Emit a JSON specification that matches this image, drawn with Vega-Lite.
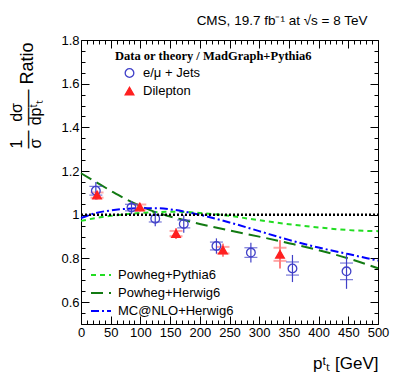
{
  "$schema": "https://vega.github.io/schema/vega-lite/v6.json",
  "width": 297,
  "height": 284,
  "autosize": {"type": "none"},
  "padding": {"left": 81, "top": 40, "right": 21, "bottom": 59},
  "background": "white",
  "config": {"view": {"stroke": null}, "font": "Liberation Sans"},
  "datasets": {
    "theory": [
      {"model": "Powheg+Pythia6", "x": 0, "y": 0.972},
      {"model": "Powheg+Pythia6", "x": 25, "y": 0.985},
      {"model": "Powheg+Pythia6", "x": 50, "y": 0.995},
      {"model": "Powheg+Pythia6", "x": 75, "y": 1.002},
      {"model": "Powheg+Pythia6", "x": 100, "y": 1.008},
      {"model": "Powheg+Pythia6", "x": 125, "y": 1.012},
      {"model": "Powheg+Pythia6", "x": 150, "y": 1.014},
      {"model": "Powheg+Pythia6", "x": 175, "y": 1.013},
      {"model": "Powheg+Pythia6", "x": 200, "y": 1.008},
      {"model": "Powheg+Pythia6", "x": 250, "y": 0.995},
      {"model": "Powheg+Pythia6", "x": 300, "y": 0.975},
      {"model": "Powheg+Pythia6", "x": 350, "y": 0.957},
      {"model": "Powheg+Pythia6", "x": 400, "y": 0.942},
      {"model": "Powheg+Pythia6", "x": 450, "y": 0.930},
      {"model": "Powheg+Pythia6", "x": 500, "y": 0.925},
      {"model": "Powheg+Herwig6", "x": 0, "y": 1.190},
      {"model": "Powheg+Herwig6", "x": 25, "y": 1.150},
      {"model": "Powheg+Herwig6", "x": 50, "y": 1.110},
      {"model": "Powheg+Herwig6", "x": 75, "y": 1.072},
      {"model": "Powheg+Herwig6", "x": 100, "y": 1.040},
      {"model": "Powheg+Herwig6", "x": 125, "y": 1.012},
      {"model": "Powheg+Herwig6", "x": 150, "y": 0.992},
      {"model": "Powheg+Herwig6", "x": 175, "y": 0.975},
      {"model": "Powheg+Herwig6", "x": 200, "y": 0.958},
      {"model": "Powheg+Herwig6", "x": 250, "y": 0.928},
      {"model": "Powheg+Herwig6", "x": 300, "y": 0.900},
      {"model": "Powheg+Herwig6", "x": 350, "y": 0.870},
      {"model": "Powheg+Herwig6", "x": 400, "y": 0.838},
      {"model": "Powheg+Herwig6", "x": 450, "y": 0.800},
      {"model": "Powheg+Herwig6", "x": 500, "y": 0.755},
      {"model": "MC@NLO+Herwig6", "x": 0, "y": 0.985},
      {"model": "MC@NLO+Herwig6", "x": 25, "y": 1.008},
      {"model": "MC@NLO+Herwig6", "x": 50, "y": 1.020},
      {"model": "MC@NLO+Herwig6", "x": 75, "y": 1.027},
      {"model": "MC@NLO+Herwig6", "x": 100, "y": 1.030},
      {"model": "MC@NLO+Herwig6", "x": 125, "y": 1.030},
      {"model": "MC@NLO+Herwig6", "x": 150, "y": 1.025},
      {"model": "MC@NLO+Herwig6", "x": 175, "y": 1.014},
      {"model": "MC@NLO+Herwig6", "x": 200, "y": 1.000},
      {"model": "MC@NLO+Herwig6", "x": 250, "y": 0.965},
      {"model": "MC@NLO+Herwig6", "x": 300, "y": 0.925},
      {"model": "MC@NLO+Herwig6", "x": 350, "y": 0.885},
      {"model": "MC@NLO+Herwig6", "x": 400, "y": 0.850},
      {"model": "MC@NLO+Herwig6", "x": 450, "y": 0.820},
      {"model": "MC@NLO+Herwig6", "x": 500, "y": 0.790}
    ],
    "meas": [
      {"sample": "e/μ + Jets", "x": 25, "y": 1.110, "lo": 1.070, "hi": 1.150, "slo": 1.090, "shi": 1.130},
      {"sample": "e/μ + Jets", "x": 85, "y": 1.033, "lo": 1.003, "hi": 1.063, "slo": 1.018, "shi": 1.048},
      {"sample": "e/μ + Jets", "x": 125, "y": 0.982, "lo": 0.947, "hi": 1.017, "slo": 0.967, "shi": 0.997},
      {"sample": "e/μ + Jets", "x": 173, "y": 0.958, "lo": 0.918, "hi": 0.998, "slo": 0.940, "shi": 0.976},
      {"sample": "e/μ + Jets", "x": 228, "y": 0.857, "lo": 0.822, "hi": 0.892, "slo": 0.839, "shi": 0.875},
      {"sample": "e/μ + Jets", "x": 286, "y": 0.827, "lo": 0.782, "hi": 0.872, "slo": 0.805, "shi": 0.849},
      {"sample": "e/μ + Jets", "x": 356, "y": 0.754, "lo": 0.692, "hi": 0.816, "slo": 0.724, "shi": 0.784},
      {"sample": "e/μ + Jets", "x": 447, "y": 0.741, "lo": 0.661, "hi": 0.821, "slo": 0.703, "shi": 0.779},
      {"sample": "Dilepton", "x": 27, "y": 1.090, "lo": 1.070, "hi": 1.110, "slo": 1.078, "shi": 1.102},
      {"sample": "Dilepton", "x": 99, "y": 1.035, "lo": 1.015, "hi": 1.055, "slo": 1.023, "shi": 1.047},
      {"sample": "Dilepton", "x": 160, "y": 0.914, "lo": 0.889, "hi": 0.939, "slo": 0.902, "shi": 0.926},
      {"sample": "Dilepton", "x": 239, "y": 0.838, "lo": 0.808, "hi": 0.868, "slo": 0.823, "shi": 0.853},
      {"sample": "Dilepton", "x": 335, "y": 0.819, "lo": 0.754, "hi": 0.884, "slo": 0.789, "shi": 0.849}
    ],
    "unity": [{"x": 0, "y": 1}, {"x": 500, "y": 1}]
  },
  "layer": [
    {
      "encoding": {
        "x": {
          "field": "x", "type": "quantitative",
          "scale": {"domain": [0, 500], "nice": false, "zero": false},
          "axis": {
            "orient": "bottom",
            "title": "pᵗₜ [GeV]", "titleFont": "Liberation Sans", "titleFontSize": 17, "titleFontWeight": "normal",
            "titleColor": "black", "titleAnchor": "end", "titleAlign": "right", "titlePadding": 12,
            "tickCount": 50, "labelExpr": "datum.value % 50 === 0 ? datum.label : ''",
            "labelOverlap": false, "labelFlush": false, "labelFont": "Liberation Sans", "labelFontSize": 13,
            "labelColor": "black", "labelPadding": 10,
            "tickSize": {"condition": {"test": "datum.value % 50 === 0", "value": -8}, "value": -4},
            "tickColor": "black", "domainColor": "black", "grid": false
          }
        },
        "y": {
          "field": "y", "type": "quantitative",
          "scale": {"domain": [0.5, 1.8], "nice": false, "zero": false},
          "axis": {
            "orient": "left",
            "title": ["\u00a01\u00a0\u00a0\u00a0\u00a0dσ", "\u00a0σ\u00a0\u00a0\u00a0dpᵗₜ"],
            "titleFont": "Liberation Sans", "titleFontSize": 16, "titleFontWeight": "normal", "titleColor": "black",
            "titleAngle": 270, "titleAlign": "left", "titleBaseline": "alphabetic", "titleLineHeight": 19,
            "titleX": -60, "titleY": 108,
            "values": [0.5, 0.55, 0.6, 0.65, 0.7, 0.75, 0.8, 0.85, 0.9, 0.95, 1, 1.05, 1.1, 1.15, 1.2, 1.25, 1.3, 1.35, 1.4, 1.45, 1.5, 1.55, 1.6, 1.65, 1.7, 1.75, 1.8],
            "labelExpr": "abs(datum.value*5 - round(datum.value*5)) < 0.0001 ? (datum.value == 1 ? '1' : format(datum.value, '.1f')) : ''",
            "labelOverlap": false, "labelFlush": false, "labelFont": "Liberation Sans", "labelFontSize": 13,
            "labelColor": "black", "labelPadding": 10,
            "tickSize": {"condition": {"test": "abs(datum.value*5 - round(datum.value*5)) < 0.0001", "value": -8}, "value": -4},
            "tickColor": "black", "domainColor": "black", "grid": false
          }
        }
      },
      "layer": [
        {
          "data": {"name": "theory"},
          "mark": {"type": "line", "strokeWidth": 2, "interpolate": "monotone"},
          "encoding": {
            "color": {
              "field": "model", "type": "nominal",
              "scale": {"domain": ["Powheg+Pythia6", "Powheg+Herwig6", "MC@NLO+Herwig6"], "range": ["#22dd22", "#127a12", "#0000ff"]},
              "legend": {"title": null, "orient": "none", "legendX": 9, "legendY": 224, "labelFont": "Liberation Sans", "labelFontSize": 13, "labelColor": "black", "symbolType": "stroke", "symbolSize": 400, "symbolStrokeWidth": 2, "labelOffset": 6, "rowPadding": -3, "padding": 0}
            },
            "strokeDash": {
              "field": "model", "type": "nominal",
              "scale": {"domain": ["Powheg+Pythia6", "Powheg+Herwig6", "MC@NLO+Herwig6"], "range": [[5, 4], [12, 6], [8, 3, 2, 3]]},
              "legend": {"title": null, "orient": "none", "legendX": 9, "legendY": 224, "labelFont": "Liberation Sans", "labelFontSize": 13, "labelColor": "black", "symbolType": "stroke", "symbolSize": 400, "symbolStrokeWidth": 2, "labelOffset": 6, "rowPadding": -3, "padding": 0}
            }
          }
        },
        {
          "data": {"name": "meas"},
          "transform": [{"filter": "datum.sample === 'Dilepton'"}],
          "mark": {"type": "rule", "color": "#ff8080", "strokeWidth": 2},
          "encoding": {"y": {"field": "lo", "type": "quantitative"}, "y2": {"field": "hi"}}
        },
        {
          "data": {"name": "meas"},
          "transform": [{"filter": "datum.sample === 'Dilepton'"}],
          "mark": {"type": "tick", "orient": "horizontal", "color": "#ff8080", "size": 13, "thickness": 2},
          "encoding": {"y": {"field": "slo", "type": "quantitative"}}
        },
        {
          "data": {"name": "meas"},
          "transform": [{"filter": "datum.sample === 'Dilepton'"}],
          "mark": {"type": "tick", "orient": "horizontal", "color": "#ff8080", "size": 13, "thickness": 2},
          "encoding": {"y": {"field": "shi", "type": "quantitative"}}
        },
        {
          "data": {"name": "meas"},
          "transform": [{"filter": "datum.sample === 'e/μ + Jets'"}],
          "mark": {"type": "rule", "color": "#4040c8", "strokeWidth": 1.2},
          "encoding": {"y": {"field": "lo", "type": "quantitative"}, "y2": {"field": "hi"}}
        },
        {
          "data": {"name": "meas"},
          "transform": [{"filter": "datum.sample === 'e/μ + Jets'"}],
          "mark": {"type": "tick", "orient": "horizontal", "color": "#4040c8", "size": 13, "thickness": 1.2},
          "encoding": {"y": {"field": "slo", "type": "quantitative"}}
        },
        {
          "data": {"name": "meas"},
          "transform": [{"filter": "datum.sample === 'e/μ + Jets'"}],
          "mark": {"type": "tick", "orient": "horizontal", "color": "#4040c8", "size": 13, "thickness": 1.2},
          "encoding": {"y": {"field": "shi", "type": "quantitative"}}
        },
        {
          "data": {"name": "meas"},
          "mark": {"type": "point", "filled": false, "size": 75, "strokeWidth": 1.3, "opacity": 1},
          "encoding": {
            "color": {
              "field": "sample", "type": "nominal",
              "scale": {"domain": ["e/μ + Jets", "Dilepton"], "range": ["#4040c8", "#ff2020"]},
              "legend": {"title": "Data or theory / MadGraph+Pythia6", "orient": "none", "legendX": 34, "legendY": 10, "titleFont": "Liberation Serif", "titleFontWeight": "bold", "titleFontSize": 12.5, "titleColor": "black", "titlePadding": 4, "titleLimit": 400, "labelFont": "Liberation Sans", "labelFontSize": 13, "labelColor": "black", "symbolOffset": 8, "labelOffset": 7, "rowPadding": 4, "padding": 0, "symbolSize": 75, "symbolStrokeWidth": 1.3}
            },
            "shape": {
              "field": "sample", "type": "nominal",
              "scale": {"domain": ["e/μ + Jets", "Dilepton"], "range": ["circle", "triangle-up"]},
              "legend": {"title": "Data or theory / MadGraph+Pythia6", "orient": "none", "legendX": 34, "legendY": 10, "titleFont": "Liberation Serif", "titleFontWeight": "bold", "titleFontSize": 12.5, "titleColor": "black", "titlePadding": 4, "titleLimit": 400, "labelFont": "Liberation Sans", "labelFontSize": 13, "labelColor": "black", "symbolOffset": 8, "labelOffset": 7, "rowPadding": 4, "padding": 0, "symbolSize": 75, "symbolStrokeWidth": 1.3}
            },
            "fill": {
              "field": "sample", "type": "nominal",
              "scale": {"domain": ["e/μ + Jets", "Dilepton"], "range": ["transparent", "#ff2020"]},
              "legend": {"title": "Data or theory / MadGraph+Pythia6", "orient": "none", "legendX": 34, "legendY": 10, "titleFont": "Liberation Serif", "titleFontWeight": "bold", "titleFontSize": 12.5, "titleColor": "black", "titlePadding": 4, "titleLimit": 400, "labelFont": "Liberation Sans", "labelFontSize": 13, "labelColor": "black", "symbolOffset": 8, "labelOffset": 7, "rowPadding": 4, "padding": 0, "symbolSize": 75, "symbolStrokeWidth": 1.3}
            }
          }
        }
      ],
      "resolve": {"scale": {"color": "independent", "shape": "independent", "fill": "independent", "strokeDash": "independent"}}
    },
    {
      "data": {"name": "unity"},
      "mark": {"type": "line", "color": "black", "strokeWidth": 2.5, "strokeDash": [2, 2]},
      "encoding": {
        "x": {
          "field": "x", "type": "quantitative",
          "scale": {"domain": [0, 500], "nice": false, "zero": false},
          "axis": {"orient": "top", "labels": false, "tickCount": 50,
            "title": "CMS, 19.7 fb⁻¹ at √s = 8 TeV", "titleFont": "Liberation Sans", "titleFontSize": 13.5, "titleFontWeight": "normal",
            "titleColor": "black", "titleX": 286, "titleY": -16, "titleAlign": "right", "titleBaseline": "alphabetic", "titleAngle": 0,
            "tickSize": {"condition": {"test": "datum.value % 50 === 0", "value": -8}, "value": -4},
            "tickColor": "black", "domainColor": "black", "grid": false}
        },
        "y": {
          "field": "y", "type": "quantitative",
          "scale": {"domain": [0.5, 1.8], "nice": false, "zero": false},
          "axis": {"orient": "right", "labels": false,
            "title": "\u00a0—\u00a0——\u00a0Ratio", "titleFont": "Liberation Sans", "titleFontSize": 18, "titleFontWeight": "normal", "titleColor": "black",
            "titleAngle": 270, "titleAlign": "left", "titleBaseline": "alphabetic", "titleX": -346, "titleY": 108,
            "values": [0.5, 0.55, 0.6, 0.65, 0.7, 0.75, 0.8, 0.85, 0.9, 0.95, 1, 1.05, 1.1, 1.15, 1.2, 1.25, 1.3, 1.35, 1.4, 1.45, 1.5, 1.55, 1.6, 1.65, 1.7, 1.75, 1.8],
            "tickSize": {"condition": {"test": "abs(datum.value*5 - round(datum.value*5)) < 0.0001", "value": -8}, "value": -4},
            "tickColor": "black", "domainColor": "black", "grid": false}
        }
      }
    }
  ],
  "resolve": {"axis": {"x": "independent", "y": "independent"}}
}
